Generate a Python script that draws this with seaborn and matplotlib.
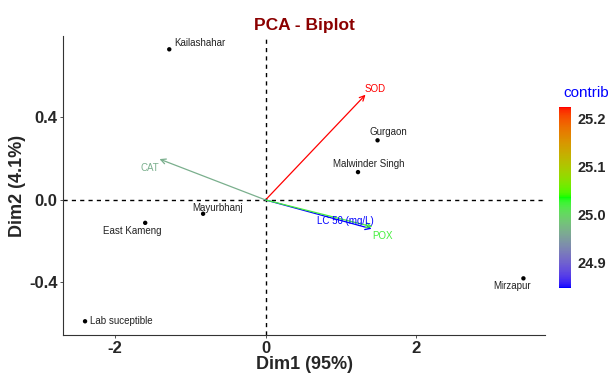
import numpy as np
import pandas as pd
import matplotlib
matplotlib.use("Agg")
import matplotlib.pyplot as plt
import seaborn as sns
from matplotlib.colors import LinearSegmentedColormap, Normalize
from matplotlib.cm import ScalarMappable

# ---- data ----
individuals = ["Kailashahar", "Gurgaon", "Malwinder Singh", "Mayurbhanj",
               "East Kameng", "Mirzapur", "Lab suceptible"]
ind_dim1 = [-1.28, 1.49, 1.23, -0.83, -1.60, 3.43, -2.40]
ind_dim2 = [0.73, 0.289, 0.135, -0.067, -0.111, -0.38, -0.588]

variables = ["SOD", "CAT", "LC 50 (mg/L)", "POX"]
var_dim1 = [1.33, -1.41, 1.41, 1.42]
var_dim2 = [0.51, 0.198, -0.14, -0.13]
var_contrib = [25.223, 24.965, 24.846, 25.02]

cbar_ticks = [24.9, 25.0, 25.1, 25.2]

# ---- label offsets (pixels) ----
ind_offsets = {
    "Kailashahar": (5, 6, "left"),
    "Gurgaon": (11, 8, "center"),
    "Malwinder Singh": (11, 8, "center"),
    "Mayurbhanj": (14, 6, "center"),
    "East Kameng": (-13, -8, "center"),
    "Mirzapur": (-11, -8, "center"),
    "Lab suceptible": (5, 0, "left"),
}
var_offsets = {
    "SOD": (10, 6, "center"),
    "CAT": (-10, -9, "center"),
    "LC 50 (mg/L)": (-26, 8, "center"),
    "POX": (10, -9, "center"),
}

# ---- Lab-space colormap (blue -> green -> red) ----
def srgb_to_lab(rgb):
    rgb = np.asarray(rgb, float)
    lin = np.where(rgb <= 0.04045, rgb / 12.92, ((rgb + 0.055) / 1.055) ** 2.4)
    M = np.array([[0.4124, 0.3576, 0.1805],
                  [0.2126, 0.7152, 0.0722],
                  [0.0193, 0.1192, 0.9505]])
    xyz = M @ lin
    wp = np.array([0.95047, 1.0, 1.08883])
    t = xyz / wp
    f = np.where(t > 0.008856, np.cbrt(t), 7.787 * t + 16 / 116)
    return np.array([116 * f[1] - 16, 500 * (f[0] - f[1]), 200 * (f[1] - f[2])])

def lab_to_srgb(lab):
    L, a, b = lab
    fy = (L + 16) / 116
    fx = fy + a / 500
    fz = fy - b / 200
    f = np.array([fx, fy, fz])
    t = np.where(f ** 3 > 0.008856, f ** 3, (f - 16 / 116) / 7.787)
    wp = np.array([0.95047, 1.0, 1.08883])
    xyz = t * wp
    Minv = np.array([[3.2406, -1.5372, -0.4986],
                     [-0.9689, 1.8758, 0.0415],
                     [0.0557, -0.2040, 1.0570]])
    lin = Minv @ xyz
    lin = np.clip(lin, 0, 1)
    rgb = np.where(lin <= 0.0031308, 12.92 * lin, 1.055 * lin ** (1 / 2.4) - 0.055)
    return np.clip(rgb, 0, 1)

anchors = [(0, 0, 1), (0, 1, 0), (1, 0, 0)]
labs = [srgb_to_lab(c) for c in anchors]
cols = []
for i in range(256):
    p = i / 255 * 2
    k = min(int(p), 1)
    u = p - k
    cols.append(lab_to_srgb(labs[k] * (1 - u) + labs[k + 1] * u))
cmap = LinearSegmentedColormap.from_list("bgr_lab", cols)
norm = Normalize(vmin=min(var_contrib), vmax=max(var_contrib))

# ---- plot ----
sns.set_style("ticks")
plt.rcParams["font.family"] = ["Liberation Sans", "DejaVu Sans"]

fig = plt.figure(figsize=(6.14, 3.74), dpi=100)
ax = fig.add_axes([0.103, 0.104, 0.785, 0.800])

df_ind = pd.DataFrame({"Dim1": ind_dim1, "Dim2": ind_dim2, "name": individuals})
sns.scatterplot(data=df_ind, x="Dim1", y="Dim2", ax=ax, color="black",
                s=10, edgecolor="none", zorder=3)

ax.axhline(0, color="black", ls=(0, (3, 3)), lw=1.0, zorder=1)
ax.axvline(0, color="black", ls=(0, (3, 3)), lw=1.0, zorder=1)

for name, x, y in zip(individuals, ind_dim1, ind_dim2):
    dx, dy, ha = ind_offsets[name]
    ax.annotate(name, (x, y), xytext=(dx, dy), textcoords="offset pixels",
                ha=ha, va="center", fontsize=7, color="#222222")

for name, x, y, c in zip(variables, var_dim1, var_dim2, var_contrib):
    col = cmap(norm(c))
    ax.annotate("", xy=(x, y), xytext=(0, 0),
                arrowprops=dict(arrowstyle="->", color=col, lw=0.9,
                                shrinkA=0, shrinkB=0, mutation_scale=9), zorder=2)
    dx, dy, ha = var_offsets[name]
    ax.annotate(name, (x, y), xytext=(dx, dy), textcoords="offset pixels",
                ha=ha, va="center", fontsize=7, color=col)

ax.set_xlim(-2.69, 3.72)
ax.set_ylim(-0.655, 0.795)
ax.set_xticks([-2, 0, 2])
ax.set_xticklabels(["-2", "0", "2"])
ax.set_yticks([-0.4, 0.0, 0.4])
ax.set_yticklabels(["-0.4", "0.0", "0.4"])
ax.tick_params(labelsize=12, length=2.5, width=0.6, color="#333333", pad=1.5)
for lab in ax.get_xticklabels() + ax.get_yticklabels():
    lab.set_fontweight("bold")
ax.set_xlabel("Dim1 (95%)", fontsize=13, fontweight="bold", labelpad=0)
ax.set_ylabel("Dim2 (4.1%)", fontsize=13, fontweight="bold", labelpad=2)
sns.despine(ax=ax)
for sp in ax.spines.values():
    sp.set_color("#333333")
    sp.set_linewidth(0.8)
ax.set_title("PCA - Biplot", fontsize=12.5, fontweight="bold", color="#8B0000", pad=4)

cax = fig.add_axes([0.911, 0.230, 0.019, 0.484])
sm = ScalarMappable(norm=norm, cmap=cmap)
cb = fig.colorbar(sm, cax=cax, ticks=cbar_ticks)
cb.outline.set_visible(False)
cb.ax.tick_params(labelsize=10.5, length=3, color="white", width=0.6, pad=2)
cb.ax.set_yticklabels([f"{t:.1f}" for t in cbar_ticks])
for lab in cb.ax.get_yticklabels():
    lab.set_fontweight("bold")
fig.text(0.955, 0.733, "contrib", color="#0000FF", fontsize=11, ha="center", va="bottom")

fig.savefig("out.png", dpi=100)
